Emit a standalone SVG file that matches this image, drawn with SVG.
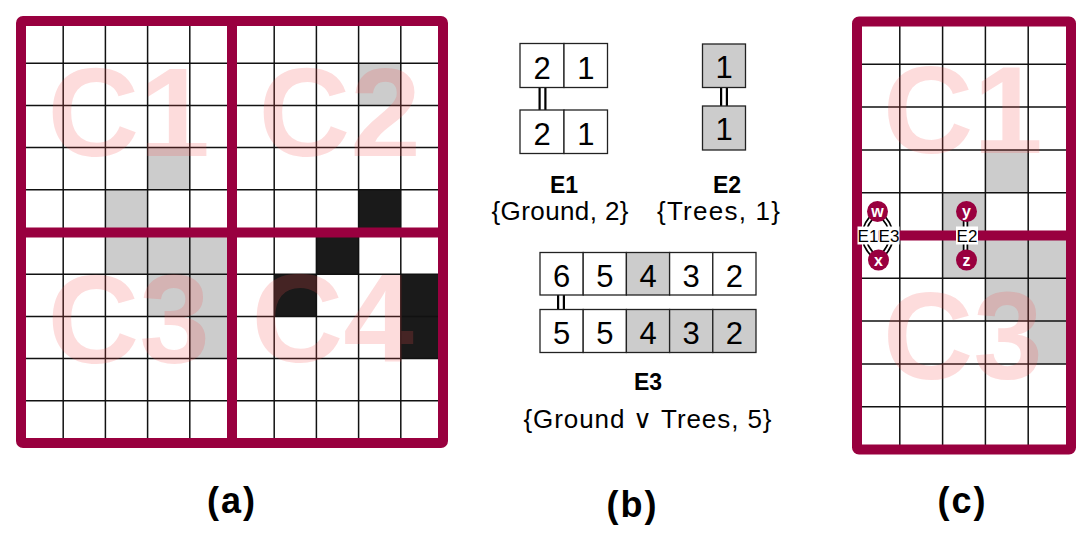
<svg xmlns="http://www.w3.org/2000/svg" width="1091" height="540" viewBox="0 0 1091 540">
<style>
.bg{fill:#fff}
.g{fill:#ccc}
.k{fill:#1a1a1a}
.grid{fill:none;stroke:#111;stroke-width:1.5}
.wm{font-family:"Liberation Sans",Arial,sans-serif;font-weight:bold;font-size:127px;fill:#f55050;fill-opacity:.2}
.bd{fill:none;stroke:#99003f;stroke-width:10;stroke-linejoin:round;stroke-linecap:butt}
.box{stroke:#222;stroke-width:1.3}
.bw{fill:#fff}
.dg{font-family:"Liberation Sans",Arial,sans-serif;font-size:31px;fill:#000;text-anchor:middle}
.el{font-family:"Liberation Sans",Arial,sans-serif;font-size:23px;font-weight:bold;fill:#000;text-anchor:middle}
.es{font-family:"Liberation Sans",Arial,sans-serif;font-size:26px;fill:#000;text-anchor:middle}
.pl{font-family:"Liberation Sans",Arial,sans-serif;font-size:36px;font-weight:bold;fill:#000;text-anchor:middle;letter-spacing:2px}
.dbo{fill:none;stroke:#000}
.dbi{fill:none;stroke:#fff}
.nd{fill:#99003f}
.nt{font-family:"Liberation Sans",Arial,sans-serif;font-size:16px;font-weight:bold;fill:#fff;text-anchor:middle}
.lb{fill:#fff}
.lt{font-family:"Liberation Sans",Arial,sans-serif;font-size:17px;fill:#000;text-anchor:middle}
</style>

<g id="panel-a">
  <rect class="bg" x="21" y="21" width="422" height="422"/>
  <rect class="g" x="147.6" y="147.6" width="42.2" height="42.2"/>
  <rect class="g" x="105.4" y="189.8" width="42.2" height="42.2"/>
  <rect class="g" x="358.6" y="63.2" width="42.2" height="42.2"/>
  <rect class="g" x="105.4" y="232" width="42.2" height="42.2"/>
  <rect class="g" x="147.6" y="232" width="42.2" height="42.2"/>
  <rect class="g" x="189.8" y="232" width="42.2" height="42.2"/>
  <rect class="g" x="147.6" y="274.2" width="42.2" height="42.2"/>
  <rect class="g" x="189.8" y="274.2" width="42.2" height="42.2"/>
  <rect class="g" x="189.8" y="316.4" width="42.2" height="42.2"/>
  <rect class="k" x="358.6" y="189.8" width="42.2" height="42.2"/>
  <rect class="k" x="316.4" y="232" width="42.2" height="42.2"/>
  <rect class="k" x="274.2" y="274.2" width="42.2" height="42.2"/>
  <rect class="k" x="400.8" y="274.2" width="42.2" height="42.2"/>
  <rect class="k" x="400.8" y="316.4" width="42.2" height="42.2"/>
  <path class="grid" d="M63.2 21V443M105.4 21V443M147.6 21V443M189.8 21V443M274.2 21V443M316.4 21V443M358.6 21V443M400.8 21V443M21 63.2H443M21 105.4H443M21 147.6H443M21 189.8H443M21 274.2H443M21 316.4H443M21 358.6H443M21 400.8H443"/>
  <text class="wm" x="47.5" y="156">C1</text>
  <text class="wm" x="258.5" y="156">C2</text>
  <text class="wm" x="47.5" y="363">C3</text>
  <text class="wm" x="251.5" y="362">C4</text>
  <rect class="bd" x="21" y="21" width="422" height="422" rx="2"/>
  <path class="bd" d="M232 21V443M21 232.5H443"/>
  <text class="pl" x="232" y="513">(a)</text>
</g>

<g id="connectors">
  <path class="dbo" stroke-width="8" d="M542.5 87.5V110"/>
  <path class="dbi" stroke-width="3.6" d="M542.5 86V111.5"/>
  <path class="dbo" stroke-width="8" d="M724 87.5V106"/>
  <path class="dbi" stroke-width="3.6" d="M724 86V107.5"/>
  <path class="dbo" stroke-width="8" d="M561 295V309.5"/>
  <path class="dbi" stroke-width="3.6" d="M561 293.5V311"/>
</g>

<g id="E1">
  <rect class="bw box" x="520" y="43.5" width="44" height="44"/>
  <rect class="bw box" x="564" y="43.5" width="43.5" height="44"/>
  <rect class="bw box" x="520" y="110" width="44" height="43.5"/>
  <rect class="bw box" x="564" y="110" width="43.5" height="43.5"/>
  <text class="dg" x="542" y="78.5">2</text>
  <text class="dg" x="585.8" y="78.5">1</text>
  <text class="dg" x="542" y="145">2</text>
  <text class="dg" x="585.8" y="145">1</text>
  <text class="el" x="564" y="193">E1</text>
  <text class="es" x="560" y="220" textLength="137">{Ground, 2}</text>
</g>

<g id="E2">
  <rect class="g box" x="702.5" y="44" width="43" height="43.5"/>
  <rect class="g box" x="702.5" y="106" width="43" height="44"/>
  <text class="dg" x="724" y="77.5">1</text>
  <text class="dg" x="724" y="140">1</text>
  <text class="el" x="727" y="193">E2</text>
  <text class="es" x="718.5" y="220" textLength="123">{Trees, 1}</text>
</g>

<g id="E3">
  <rect class="bw box" x="540" y="252.5" width="43.2" height="42.5"/>
  <rect class="bw box" x="583.2" y="252.5" width="43.2" height="42.5"/>
  <rect class="g box" x="626.4" y="252.5" width="43.2" height="42.5"/>
  <rect class="bw box" x="669.6" y="252.5" width="43.2" height="42.5"/>
  <rect class="bw box" x="712.8" y="252.5" width="43.2" height="42.5"/>
  <rect class="bw box" x="540" y="309.5" width="43.2" height="43"/>
  <rect class="bw box" x="583.2" y="309.5" width="43.2" height="43"/>
  <rect class="g box" x="626.4" y="309.5" width="43.2" height="43"/>
  <rect class="g box" x="669.6" y="309.5" width="43.2" height="43"/>
  <rect class="g box" x="712.8" y="309.5" width="43.2" height="43"/>
  <text class="dg" x="561.6" y="286.5">6</text>
  <text class="dg" x="604.8" y="286.5">5</text>
  <text class="dg" x="648" y="286.5">4</text>
  <text class="dg" x="691.2" y="286.5">3</text>
  <text class="dg" x="734.4" y="286.5">2</text>
  <text class="dg" x="561.6" y="343.5">5</text>
  <text class="dg" x="604.8" y="343.5">5</text>
  <text class="dg" x="648" y="343.5">4</text>
  <text class="dg" x="691.2" y="343.5">3</text>
  <text class="dg" x="734.4" y="343.5">2</text>
  <text class="el" x="648" y="390">E3</text>
  <text class="es" x="647.5" y="428" textLength="248">{Ground ∨ Trees, 5}</text>
</g>

<text class="pl" x="632.5" y="517">(b)</text>

<g id="panel-c">
  <rect class="bg" x="857" y="21.5" width="214" height="428"/>
  <rect class="g" x="985.4" y="149.9" width="42.8" height="42.8"/>
  <rect class="g" x="942.6" y="192.7" width="42.8" height="42.8"/>
  <rect class="g" x="942.6" y="235.5" width="42.8" height="42.8"/>
  <rect class="g" x="985.4" y="235.5" width="42.8" height="42.8"/>
  <rect class="g" x="1028.2" y="235.5" width="42.8" height="42.8"/>
  <rect class="g" x="985.4" y="278.3" width="42.8" height="42.8"/>
  <rect class="g" x="1028.2" y="278.3" width="42.8" height="42.8"/>
  <rect class="g" x="1028.2" y="321.1" width="42.8" height="42.8"/>
  <path class="grid" d="M899.8 21.5V449.5M942.6 21.5V449.5M985.4 21.5V449.5M1028.2 21.5V449.5M857 64.3H1071M857 107.1H1071M857 149.9H1071M857 192.7H1071M857 278.3H1071M857 321.1H1071M857 363.9H1071M857 406.7H1071"/>
  <text class="wm" x="883" y="153" style="font-size:125px">C1</text>
  <text class="wm" x="883" y="379" style="font-size:125px">C3</text>
  <rect class="bd" x="857" y="21.5" width="214" height="428" rx="2"/>
  <path class="bd" d="M857 235.5H1071"/>
  <text class="pl" x="962.5" y="513">(c)</text>
</g>

<g id="connectors-c">
  <path class="dbo" stroke-width="5.5" d="M877.5 211.5Q850 235.5 878 260"/>
  <path class="dbi" stroke-width="2" d="M877.5 211.5Q850 235.5 878 260"/>
  <path class="dbo" stroke-width="5.5" d="M877.5 211.5Q905 235.5 878 260"/>
  <path class="dbi" stroke-width="2" d="M877.5 211.5Q905 235.5 878 260"/>
  <path class="dbo" stroke-width="5.5" d="M965.5 211.5V260"/>
  <path class="dbi" stroke-width="2" d="M965.5 211.5V260"/>
</g>

<g id="labels-c">
  <rect class="lb" x="857.5" y="226.5" width="21" height="18"/>
  <rect class="lb" x="878.5" y="226.5" width="21" height="18"/>
  <rect class="lb" x="956" y="226.5" width="22" height="18"/>
  <text class="lt" x="868" y="241.5">E1</text>
  <text class="lt" x="889" y="241.5">E3</text>
  <text class="lt" x="967" y="241.5">E2</text>
</g>

<g id="node-w"><circle class="nd" cx="877.5" cy="211.5" r="10.5"/><text class="nt" x="877.5" y="217">w</text></g>
<g id="node-x"><circle class="nd" cx="878.5" cy="260" r="10.5"/><text class="nt" x="878.5" y="265.5">x</text></g>
<g id="node-y"><circle class="nd" cx="966.5" cy="211.5" r="10.5"/><text class="nt" x="966.5" y="217">y</text></g>
<g id="node-z"><circle class="nd" cx="966.5" cy="260" r="10.5"/><text class="nt" x="966.5" y="265.5">z</text></g>
</svg>
